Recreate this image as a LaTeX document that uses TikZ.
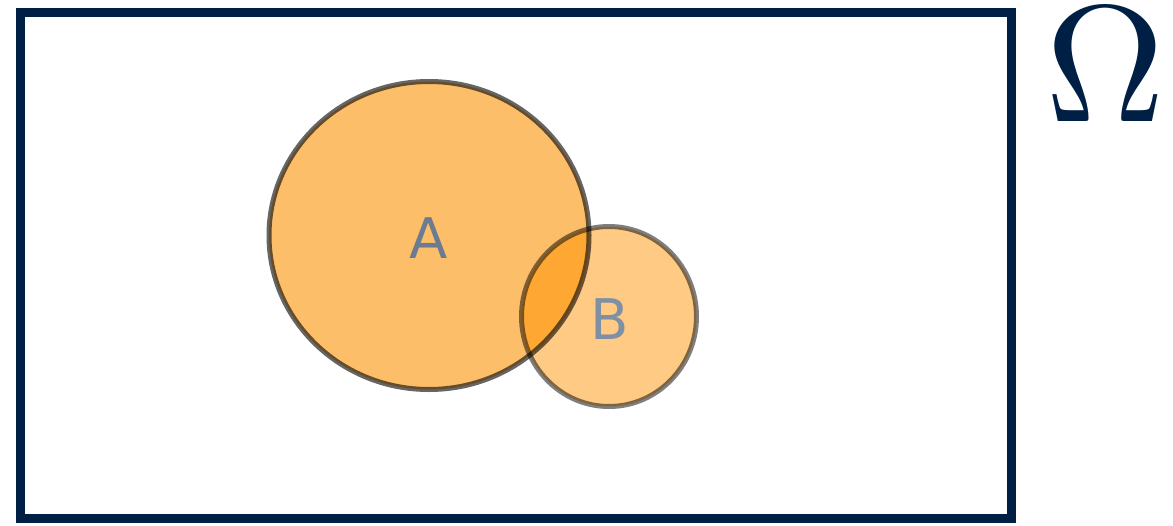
\documentclass[tikz,border=0pt]{standalone}
\usepackage{fontspec}
\usepackage{graphicx}
\newfontfamily\labelfont{DejaVu Sans}
\definecolor{navy}{HTML}{001F44}
\definecolor{fillA}{HTML}{FDBE69}
\definecolor{fillB}{HTML}{FECA84}
\definecolor{fillAB}{HTML}{FEA833}
\definecolor{txtA}{HTML}{6A7B92}
\definecolor{txtB}{HTML}{8090A4}
\tikzset{
  frame/.style={draw=navy, line width=4.5pt},
  setedge/.style={draw=black, line width=2.5pt},
  setlabel/.style={font=\labelfont\fontsize{28}{30}\selectfont, inner sep=0pt}
}
\begin{document}
\begin{tikzpicture}[x=0.5pt,y=-0.5pt]
\useasboundingbox (0,0) rectangle (1173,525);
\fill[white] (0,0) rectangle (1173,525);
\draw[frame] (20.5,12) rectangle (1011.5,518.5);
% fills
\fill[fillA] (429,235.5) ellipse [x radius=160, y radius=154];
\fill[fillB] (609,316.5) ellipse [x radius=87.5, y radius=90];
\begin{scope}
  \clip (429,235.5) ellipse [x radius=160, y radius=154];
  \fill[fillAB] (609,316.5) ellipse [x radius=87.5, y radius=90];
\end{scope}
% edges
\draw[setedge, draw opacity=0.6] (429,235.5) ellipse [x radius=160, y radius=154];
\draw[setedge, draw opacity=0.5] (609,316.5) ellipse [x radius=87.5, y radius=90];
% labels
\node[setlabel, text=txtA] (la) at (429,238) {A};
\node[setlabel, text=txtB] (lb) at (610,319.5) {B};
\node[inner sep=0pt, text=navy] (om) at (1105.5,65) {\scalebox{8.3}{$\Omega$}};
\end{tikzpicture}
\end{document}
